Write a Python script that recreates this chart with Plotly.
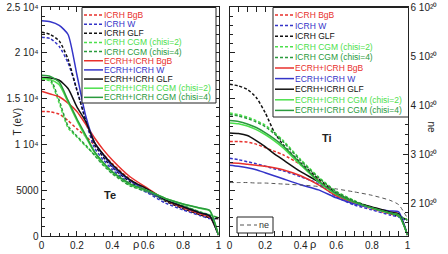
import plotly.graph_objects as go

# ---------------- data ----------------
RHO_TE = [0, 0.05, 0.1, 0.15, 0.2, 0.25, 0.3, 0.35, 0.4, 0.5, 0.6, 0.7, 0.8, 0.9, 0.95, 1.0]
TE_ICRH_BGB = [13600, 13550, 13300, 12600, 11700, 10900, 9900, 8900, 7900, 6200, 5000, 3900, 3000, 2300, 2000, 1900]
TE_ICRH_W = [21700, 21550, 20700, 18900, 16000, 12500, 9600, 8300, 7250, 5700, 4700, 3600, 2850, 2200, 1900, 1850]
TE_ICRH_GLF = [22250, 22000, 21300, 19300, 15900, 12700, 10000, 8600, 7500, 5900, 4850, 3800, 3000, 2300, 2000, 1900]
TE_ICRH_CGM2 = [17100, 16900, 14500, 11800, 10800, 9800, 8900, 7800, 6900, 5550, 4850, 3950, 3300, 2600, 2300, 2000]
TE_ICRH_CGM4 = [17300, 17100, 14800, 12000, 10900, 9900, 8800, 7700, 6800, 5480, 4800, 3900, 3300, 2600, 2300, 2000]
TE_ECRH_BGB = [15800, 15500, 15200, 14500, 13600, 12200, 10700, 9400, 8300, 6470, 5200, 3950, 3100, 2400, 2100, 100]
TE_ECRH_W = [23500, 23400, 23000, 22000, 17600, 13100, 10200, 8800, 7600, 6050, 4900, 3950, 3200, 2500, 2200, 100]
TE_ECRH_GLF = [17300, 17250, 17000, 16100, 14100, 12500, 10200, 8900, 7800, 6140, 5100, 3950, 3200, 2500, 2200, 100]
TE_ECRH_CGM2 = [17200, 17100, 16500, 14600, 12600, 10800, 9100, 7900, 7000, 5700, 4950, 4100, 3500, 3000, 2750, 100]
TE_ECRH_CGM4 = [17540, 17420, 16800, 14800, 12800, 11000, 9200, 8000, 7000, 5700, 4950, 4100, 3500, 3050, 2800, 100]

RHO_TI = [0, 0.05, 0.1, 0.15, 0.2, 0.25, 0.3, 0.4, 0.5, 0.6, 0.7, 0.8, 0.9, 0.95, 1.0]
TI_ICRH_BGB = [10310, 10310, 10250, 10030, 9650, 9270, 8880, 7790, 6140, 4610, 3620, 2960, 2410, 2190, 1750]
TI_ICRH_W = [8500, 8330, 8110, 7890, 7620, 7350, 7130, 6470, 5700, 4280, 3400, 2850, 2300, 2080, 1640]
TI_ICRH_GLF = [16560, 16390, 16010, 15130, 13490, 11400, 9980, 8000, 6250, 4710, 3730, 3070, 2520, 2190, 1750]
TI_ICRH_CGM2 = [13420, 13250, 12980, 12600, 12100, 11330, 10450, 8350, 6450, 4880, 3880, 3100, 2540, 2210, 1780]
TI_ICRH_CGM4 = [13270, 13100, 12830, 12450, 11950, 11180, 10310, 8220, 6360, 4820, 3840, 3070, 2520, 2190, 1750]
TI_ECRH_BGB = [8000, 7950, 7840, 7730, 7620, 7460, 7240, 6580, 5590, 4390, 3620, 3070, 2630, 2410, 100]
TI_ECRH_W = [7730, 7620, 7460, 7240, 6910, 6580, 6250, 5590, 5040, 4170, 3510, 3070, 2740, 2630, 100]
TI_ECRH_GLF = [11240, 11180, 10970, 10420, 9760, 8990, 8330, 7020, 5920, 4610, 3730, 3180, 2630, 2410, 100]
TI_ECRH_CGM2 = [12340, 12250, 12000, 11620, 11080, 10420, 9650, 7740, 5930, 4550, 3700, 3050, 2500, 2280, 100]
TI_ECRH_CGM4 = [12610, 12500, 12230, 11840, 11290, 10640, 9870, 7890, 6030, 4610, 3730, 3070, 2520, 2300, 100]

NE_1E20 = [2.42, 2.42, 2.42, 2.41, 2.41, 2.40, 2.39, 2.37, 2.34, 2.29, 2.23, 2.16, 2.06, 1.97, 1.69]

SERIES_NAMES = ["ICRH BgB", "ICRH W", "ICRH GLF", "ICRH CGM (chisi=2)", "ICRH CGM (chisi=4)",
                "ECRH+ICRH BgB", "ECRH+ICRH W", "ECRH+ICRH GLF",
                "ECRH+ICRH CGM (chisi=2)", "ECRH+ICRH CGM (chisi=4)"]
TE_SERIES = [TE_ICRH_BGB, TE_ICRH_W, TE_ICRH_GLF, TE_ICRH_CGM2, TE_ICRH_CGM4,
             TE_ECRH_BGB, TE_ECRH_W, TE_ECRH_GLF, TE_ECRH_CGM2, TE_ECRH_CGM4]
TI_SERIES = [TI_ICRH_BGB, TI_ICRH_W, TI_ICRH_GLF, TI_ICRH_CGM2, TI_ICRH_CGM4,
             TI_ECRH_BGB, TI_ECRH_W, TI_ECRH_GLF, TI_ECRH_CGM2, TI_ECRH_CGM4]

X_TICKS = [0, 0.2, 0.4, 0.6, 0.8, 1]
X_TICKTEXT = ["0", "0.2", "0.4", "0.6", "0.8", "1"]
TE_TICKS = [0, 5000, 10000, 15000, 20000, 25000]
TE_TICKTEXT = ["0", "5000", "1 10⁴", "1.5 10⁴", "2 10⁴", "2.5 10⁴"]
NE_TICKS = [2, 3, 4, 5, 6]
NE_TICKTEXT = ["2 10²⁰", "3 10²⁰", "4 10²⁰", "5 10²⁰", "6 10²⁰"]

# ---------------- styles ----------------
RED, BLUE, BLACK, LGREEN, DGREEN = "#e8302c", "#3434c8", "#111111", "#4ce04c", "#2a9a3c"
COLORS = [RED, BLUE, BLACK, LGREEN, DGREEN, RED, BLUE, BLACK, LGREEN, DGREEN]
DASHES = ["3px,2px"] * 5 + ["solid"] * 5
FONT = "Liberation Sans, Arial, sans-serif"
W, H = 448, 254


def px(x):
    return x / W


def py(y):
    return 1 - y / H


fig = go.Figure()
for name, te, c, d in zip(SERIES_NAMES, TE_SERIES, COLORS, DASHES):
    fig.add_trace(go.Scatter(x=RHO_TE, y=te, name=name, mode="lines", xaxis="x", yaxis="y",
                             line=dict(color=c, width=1.5, dash=d, shape="spline", smoothing=0.6),
                             showlegend=False))
for name, ti, c, d in zip(SERIES_NAMES, TI_SERIES, COLORS, DASHES):
    fig.add_trace(go.Scatter(x=RHO_TI, y=ti, name=name, mode="lines", xaxis="x2", yaxis="y2",
                             line=dict(color=c, width=1.5, dash=d, shape="spline", smoothing=0.6),
                             showlegend=False))
fig.add_trace(go.Scatter(x=RHO_TI, y=NE_1E20, name="ne", mode="lines", xaxis="x2", yaxis="y3",
                         line=dict(color="#555555", width=1, dash="4px,3px", shape="spline", smoothing=0.6),
                         showlegend=False))

Y_DOM = [py(236), py(7)]
axis_common = dict(showline=True, linecolor="#222222", linewidth=1, ticks="inside", ticklen=5,
                   tickcolor="#222222", tickwidth=1, showgrid=False, zeroline=False,
                   automargin=False, tickfont=dict(family=FONT, size=10, color="#222222"))

fig.update_layout(
    width=W, height=H, margin=dict(l=0, r=0, t=0, b=0),
    paper_bgcolor="white", plot_bgcolor="white", showlegend=False,
    font=dict(family=FONT, size=10, color="#222222"),
    xaxis=dict(domain=[px(41.5), px(218.5)], range=[0, 1], anchor="y", mirror="allticks",
               tickvals=X_TICKS, ticktext=X_TICKTEXT,
               minor=dict(dtick=0.05, ticks="inside", ticklen=3, tickcolor="#222222"), **axis_common),
    yaxis=dict(domain=Y_DOM, range=[0, 25000], anchor="x", mirror="allticks",
               tickvals=TE_TICKS, ticktext=TE_TICKTEXT,
               minor=dict(dtick=1000, ticks="inside", ticklen=3, tickcolor="#222222"), **axis_common),
    xaxis2=dict(domain=[px(229.5), px(407.5)], range=[0, 1], anchor="y2", mirror="allticks",
                tickvals=X_TICKS, ticktext=X_TICKTEXT,
                minor=dict(dtick=0.05, ticks="inside", ticklen=3, tickcolor="#222222"), **axis_common),
    yaxis2=dict(domain=Y_DOM, range=[0, 25000], anchor="x2", mirror=True, showticklabels=False,
                dtick=5000, minor=dict(dtick=1000, ticks="inside", ticklen=3, tickcolor="#222222"),
                **axis_common),
    yaxis3=dict(range=[1.33, 6.0], overlaying="y2", side="right", anchor="x2",
                tickvals=NE_TICKS, ticktext=NE_TICKTEXT,
                minor=dict(dtick=0.2, ticks="inside", ticklen=3, tickcolor="#222222"), **axis_common),
)

shapes = []
annotations = []

# left legend
LX0, LX1, LY0, LY1 = 82, 216, 7.5, 103
shapes.append(dict(type="rect", xref="paper", yref="paper", x0=px(LX0), x1=px(LX1), y0=py(LY1), y1=py(LY0),
                   line=dict(color="#222222", width=1), fillcolor="white", layer="above"))
# right legend
RX0, RX1, RY0, RY1 = 273, 408.5, 7.5, 117
shapes.append(dict(type="rect", xref="paper", yref="paper", x0=px(RX0), x1=px(RX1), y0=py(RY1), y1=py(RY0),
                   line=dict(color="#222222", width=1), fillcolor="white", layer="above"))

for i, (name, c, d) in enumerate(zip(SERIES_NAMES, COLORS, DASHES)):
    for (sx0, sx1, tx, y0, step) in [(84, 103, 102, 15, 9.15), (275, 294, 293, 15, 10.6)]:
        yy = y0 + i * step
        shapes.append(dict(type="line", xref="paper", yref="paper", x0=px(sx0), x1=px(sx1),
                           y0=py(yy), y1=py(yy), line=dict(color=c, width=1.5, dash=d), layer="above"))
        annotations.append(dict(xref="paper", yref="paper", x=px(tx), y=py(yy), text=name,
                                showarrow=False, xanchor="left", yanchor="middle",
                                font=dict(family=FONT, size=8.5, color=c)))

# ne legend
shapes.append(dict(type="rect", xref="paper", yref="paper", x0=px(237), x1=px(273), y0=py(233), y1=py(217),
                   line=dict(color="#222222", width=1), fillcolor="white", layer="above"))
shapes.append(dict(type="line", xref="paper", yref="paper", x0=px(240), x1=px(257), y0=py(225), y1=py(225),
                   line=dict(color="#555555", width=1, dash="4px,3px"), layer="above"))
annotations.append(dict(xref="paper", yref="paper", x=px(257), y=py(225), text="ne", showarrow=False,
                        xanchor="left", yanchor="middle", font=dict(family=FONT, size=9, color="#333333")))

# labels
annotations += [
    dict(xref="paper", yref="paper", x=px(9), y=py(122), text="T (eV)", textangle=-90, showarrow=False,
         font=dict(family=FONT, size=10, color="#222222")),
    dict(xref="paper", yref="paper", x=px(439), y=py(127), text="ne", textangle=90, showarrow=False,
         font=dict(family=FONT, size=10, color="#222222")),
    dict(xref="paper", yref="paper", x=px(131), y=py(252), text="ρ", showarrow=False,
         font=dict(family=FONT, size=11, color="#222222")),
    dict(xref="paper", yref="paper", x=px(318), y=py(252), text="ρ", showarrow=False,
         font=dict(family=FONT, size=11, color="#222222")),
    dict(xref="paper", yref="paper", x=px(102), y=py(203), text="<b>Te</b>", showarrow=False,
         font=dict(family=FONT, size=11, color="#222222")),
    dict(xref="paper", yref="paper", x=px(334), y=py(138), text="<b>Ti</b>", showarrow=False,
         font=dict(family=FONT, size=11, color="#222222")),
]

fig.update_layout(shapes=shapes, annotations=annotations)
fig.write_html("out.html")
